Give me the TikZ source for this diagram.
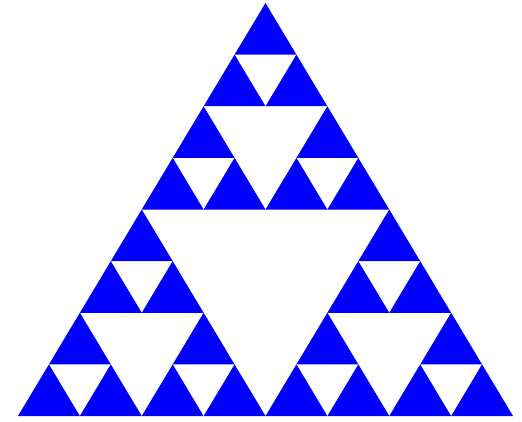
\documentclass[tikz,border=0pt]{standalone}
\usepackage{tikz}
\definecolor{sierpblue}{RGB}{0,0,250}

\begin{document}
\begin{tikzpicture}[
  x=1pt,y=1pt,
  tri/.style={fill=sierpblue}
]
\useasboundingbox (0,0) rectangle (522,421);
% small triangle: side and height
\def\side{61.875}
\def\high{51.625}
\foreach \ax/\ay in {0/0,1/0,0.5/1}
  \foreach \bx/\by in {0/0,1/0,0.5/1}
    \foreach \cx/\cy in {0/0,1/0,0.5/1}
      \fill[tri] ({18+(4*\ax+2*\bx+\cx)*\side},{5+(4*\ay+2*\by+\cy)*\high})
        -- ++(\side,0) -- ++(-\side/2,\high) -- cycle;
\end{tikzpicture}
\end{document}
